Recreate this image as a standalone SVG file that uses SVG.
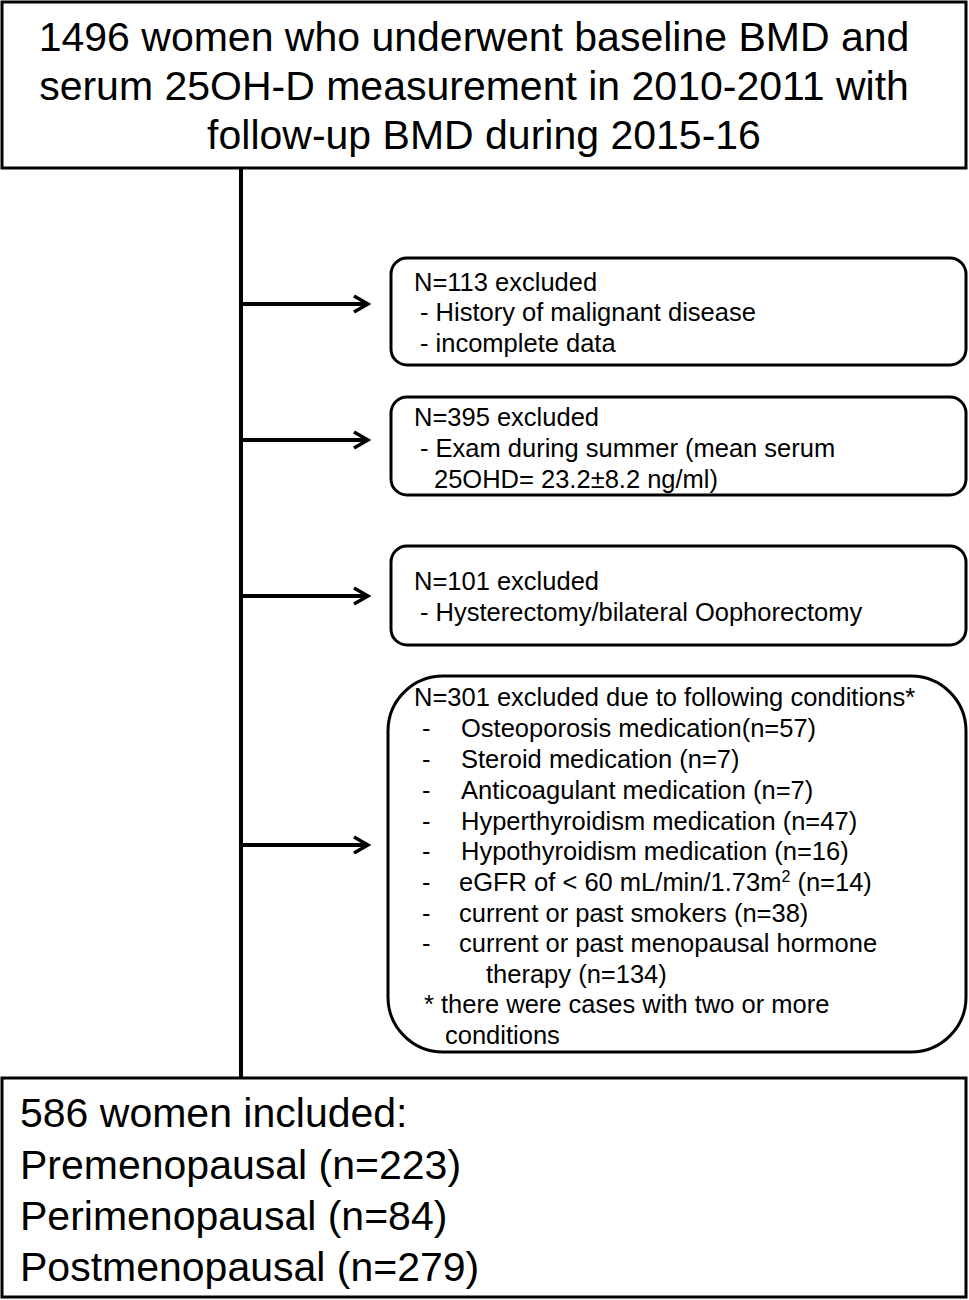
<svg xmlns="http://www.w3.org/2000/svg" width="969" height="1300" viewBox="0 0 969 1300">
<defs>
<style>
.box{fill:#fff;stroke:#000;stroke-width:3}
.big{font-family:"Liberation Sans",Arial,sans-serif;font-size:41px;fill:#000}
.t{font-family:"Liberation Sans",Arial,sans-serif;font-size:25.5px;fill:#000}
.ln{stroke:#000;stroke-width:4;fill:none}
</style>
<marker id="ah" viewBox="0 0 20 20" refX="17" refY="10" markerWidth="20" markerHeight="20" markerUnits="userSpaceOnUse" orient="auto">
<path d="M3,2 L17,10 L3,18" fill="none" stroke="#000" stroke-width="3.5"/>
</marker>
</defs>
<g id="connectors">
<line class="ln" x1="241" y1="168" x2="241" y2="1078"/>
<line class="ln" x1="241" y1="304" x2="368" y2="304" marker-end="url(#ah)"/>
<line class="ln" x1="241" y1="440" x2="368" y2="440" marker-end="url(#ah)"/>
<line class="ln" x1="241" y1="596" x2="368" y2="596" marker-end="url(#ah)"/>
<line class="ln" x1="241" y1="845" x2="368" y2="845" marker-end="url(#ah)"/>
</g>
<g id="top">
<rect class="box" x="2" y="2" width="964" height="166" stroke-width="4"/>
<text class="big" text-anchor="middle"><tspan x="474" y="51">1496 women who underwent baseline BMD and</tspan><tspan x="474" y="100">serum 25OH-D measurement in 2010-2011 with</tspan><tspan x="484" y="149">follow-up BMD during 2015-16</tspan></text>
</g>
<g id="ex1">
<rect class="box" x="391" y="258" width="575" height="107" rx="16"/>
<text class="t"><tspan x="414" y="291">N=113 excluded</tspan><tspan x="420" y="321">- History of malignant disease</tspan><tspan x="420" y="352">- incomplete data</tspan></text>
</g>
<g id="ex2">
<rect class="box" x="391" y="397" width="575" height="98" rx="16"/>
<text class="t"><tspan x="414" y="426">N=395 excluded</tspan><tspan x="420" y="457">- Exam during summer (mean serum</tspan><tspan x="434" y="488">25OHD= 23.2±8.2 ng/ml)</tspan></text>
</g>
<g id="ex3">
<rect class="box" x="391" y="546" width="575" height="99" rx="16"/>
<text class="t"><tspan x="414" y="590">N=101 excluded</tspan><tspan x="420" y="621">- Hysterectomy/bilateral Oophorectomy</tspan></text>
</g>
<g id="ex4">
<rect class="box" x="388" y="676" width="578" height="376" rx="55"/>
<text class="t"><tspan x="414" y="706">N=301 excluded due to following conditions*</tspan>
<tspan x="422" y="737">-</tspan><tspan x="461" y="737">Osteoporosis medication(n=57)</tspan>
<tspan x="422" y="768">-</tspan><tspan x="461" y="768">Steroid medication (n=7)</tspan>
<tspan x="422" y="799">-</tspan><tspan x="461" y="799">Anticoagulant medication (n=7)</tspan>
<tspan x="422" y="830">-</tspan><tspan x="461" y="830">Hyperthyroidism medication (n=47)</tspan>
<tspan x="422" y="860">-</tspan><tspan x="461" y="860">Hypothyroidism medication (n=16)</tspan>
<tspan x="422" y="891">-</tspan><tspan x="459" y="891">eGFR of &lt; 60 mL/min/1.73m</tspan><tspan font-size="16" dy="-9">2</tspan><tspan dy="9"> (n=14)</tspan>
<tspan x="422" y="922">-</tspan><tspan x="459" y="922">current or past smokers (n=38)</tspan>
<tspan x="422" y="952">-</tspan><tspan x="459" y="952">current or past menopausal hormone</tspan>
<tspan x="486" y="983">therapy (n=134)</tspan>
<tspan x="424" y="1013">*  there were cases with two or more</tspan>
<tspan x="445" y="1044">conditions</tspan></text>
</g>
<g id="bottom">
<rect class="box" x="2" y="1078" width="964" height="219" stroke-width="4"/>
<text class="big"><tspan x="20" y="1127">586 women included:</tspan><tspan x="20" y="1179">Premenopausal (n=223)</tspan><tspan x="20" y="1230">Perimenopausal (n=84)</tspan><tspan x="20" y="1281">Postmenopausal (n=279)</tspan></text>
</g>
</svg>
